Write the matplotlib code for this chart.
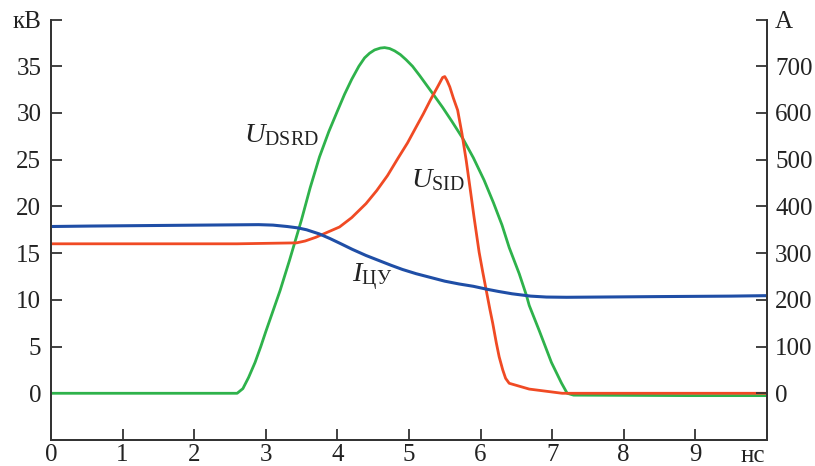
import numpy as np
import matplotlib
matplotlib.use('Agg')
import matplotlib.pyplot as plt

plt.rcParams['font.family'] = ['Liberation Serif', 'DejaVu Serif']
plt.rcParams['mathtext.fontset'] = 'custom'
plt.rcParams['mathtext.rm'] = 'Liberation Serif'
plt.rcParams['mathtext.it'] = 'Liberation Serif:italic'

# U_DSRD, kV
t_dsrd = [0, 1.6, 2.6, 2.68, 2.76, 2.85, 2.93, 3.0, 3.1, 3.2, 3.33, 3.5, 3.62, 3.75,
          3.88, 4.0, 4.1, 4.2, 4.3, 4.38, 4.45, 4.52, 4.6, 4.66, 4.73, 4.8, 4.88,
          4.96, 5.05, 5.15, 5.33, 5.47, 5.6, 5.75, 5.9, 6.05, 6.18, 6.3, 6.4,
          6.54, 6.64, 6.68, 6.82, 6.99, 7.13, 7.21, 7.3, 8.9, 10]
u_dsrd = [0, 0, 0, 0.5, 1.7, 3.3, 5.0, 6.6, 8.8, 11.0, 14.2, 18.6, 22.0, 25.3,
          28.0, 30.2, 32.0, 33.6, 35.0, 35.9, 36.4, 36.75, 36.95, 37.0, 36.9, 36.65, 36.25,
          35.7, 35.0, 34.0, 32.1, 30.6, 29.1, 27.3, 25.2, 22.8, 20.4, 18.0, 15.6,
          12.8, 10.5, 9.4, 6.7, 3.3, 1.1, 0, -0.2, -0.25, -0.25]

# U_SID, kV
t_sid = [0, 1.1, 2.6, 3.43, 3.55, 3.7, 3.85, 4.03, 4.2, 4.4, 4.55, 4.7, 4.85, 4.98,
         5.1, 5.2, 5.3, 5.4, 5.47, 5.5, 5.53, 5.57, 5.62, 5.68, 5.74, 5.8, 5.86,
         5.91, 5.98, 6.03, 6.08, 6.13, 6.17, 6.22, 6.26, 6.31, 6.35, 6.4, 6.68, 7.14, 10]
u_sid = [16, 16, 16, 16.1, 16.3, 16.7, 17.2, 17.8, 18.8, 20.3, 21.7, 23.3, 25.2, 26.8,
         28.5, 29.9, 31.4, 32.8, 33.8, 33.9, 33.5, 32.8, 31.6, 30.3, 27.8, 24.9, 21.6,
         18.8, 15.1, 13.0, 11.0, 9.0, 7.5, 5.4, 3.9, 2.5, 1.6, 1.07, 0.45, 0, 0]

# I_CU, A
t_cu = [0, 0.55, 2.1, 2.9, 3.1, 3.3, 3.45, 3.57, 3.75, 3.9, 4.05, 4.21, 4.4, 4.55,
        4.75, 4.91, 5.1, 5.3, 5.5, 5.7, 5.9, 6.08, 6.25, 6.44, 6.7, 6.92, 7.2,
        7.66, 8.5, 9.5, 10]
i_cu = [357, 358, 360, 361, 360, 357, 354, 350, 341, 331, 320, 308, 295, 286,
        274, 265, 256, 248, 240, 234, 229, 223, 218, 213, 208, 206, 205.5,
        206, 207, 208, 209]

fig = plt.figure(figsize=(8.15, 4.66), dpi=100)
ax = fig.add_axes([0.0626, 0.0558, 0.8784, 0.9022])
ax2 = ax.twinx()

green = '#2eb24b'
red = '#f04a24'
blue = '#1f4ea6'

ax.plot(t_dsrd, u_dsrd, color=green, lw=2)
ax.plot(t_sid, u_sid, color=red, lw=2)
ax2.plot(t_cu, i_cu, color=blue, lw=2.2)

ax.set_xlim(0, 10)
ax.set_ylim(-5, 40)
ax2.set_ylim(-100, 800)

ax.set_xticks(range(11))
ax.set_xticklabels([str(i) for i in range(10)] + [''])
ax.set_yticks(range(0, 45, 5))
ax.set_yticklabels([str(v) for v in range(0, 40, 5)] + ['кВ'])
ax2.set_yticks(range(0, 900, 100))
ax2.set_yticklabels([str(v) for v in range(0, 800, 100)] + ['А'])

for a in (ax, ax2):
    a.spines['top'].set_visible(False)
    for s in a.spines.values():
        s.set_color('#333333')
        s.set_linewidth(1.3)
    a.tick_params(direction='in', length=8, width=1.3, color='#333333',
                  labelsize=18, labelcolor='#222222')
ax.tick_params(axis='y', pad=7)
ax2.tick_params(axis='y', pad=6)
ax.tick_params(axis='x', pad=3)

ax.text(9.8, -5.5, 'нс', fontsize=18, color='#222222', ha='center', va='top')

ax.text(3.22, 27.6, r'$U_{\mathrm{DSRD}}$', fontsize=20.5, ha='center', va='center', color='#222222')
ax.text(5.41, 22.8, r'$U_{\mathrm{SID}}$', fontsize=20.5, ha='center', va='center', color='#222222')
ax.text(4.48, 12.4, r'$I_{\mathrm{ЦУ}}$', fontsize=20.5, ha='center', va='center', color='#222222')

fig.savefig('out.png', dpi=100)
